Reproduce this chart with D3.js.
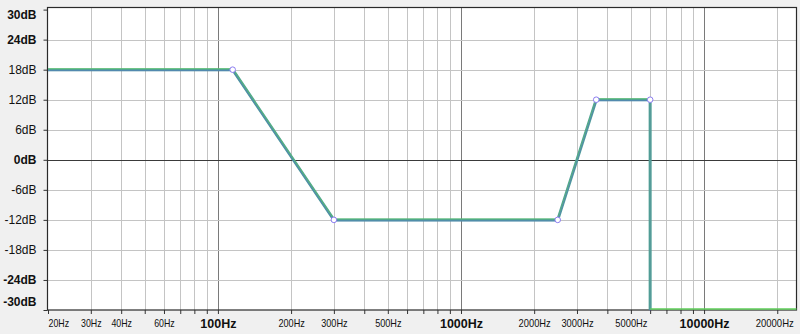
<!DOCTYPE html>
<html><head><meta charset="utf-8">
<script src="https://cdn.jsdelivr.net/npm/d3@7"></script>
<style>
html,body{margin:0;padding:0;background:#f0f0f0;}
svg{display:block;font-family:"Liberation Sans",Arial,sans-serif;}
</style></head>
<body><svg id="c" width="800" height="334"></svg>
<script>
// ---- data ----
const curveFreqs = [20, 115, 300, 2500, 3600, 6000, 6000];
const curveGains = [18, 18, -12, -12, 12, 12, -30];
const tailFreqs = [6000, 24000];
const tailGains = [-30, -30];
const nodeFreqs = [115, 300, 2500, 3600, 6000];
const nodeGains = [18, -12, -12, 12, 12];
const gridFreqs = [20,30,40,50,60,70,80,90,100,200,300,400,500,600,700,800,900,1000,2000,3000,4000,5000,6000,7000,8000,9000,10000,20000];
const majorFreqs = [100, 1000, 10000];
const labeledFreqs = [20,30,40,60,100,200,300,500,1000,2000,3000,5000,10000,20000];
const dbTicks = [30,24,18,12,6,0,-6,-12,-18,-24,-30];
const boldDb = [30,24,0,-24,-30];

const svg = d3.select("#c");
const L = 47.5, R = 796.5, T = 7.5, B = 310;
const x = d3.scaleLog().domain([20, 24000]).range([48, 796.5]);
const y = d3.scaleLinear().domain([-30, 30]).range([310, 9.6]);

svg.append("rect").attr("width",800).attr("height",334).attr("fill","#f0f0f0");
svg.append("rect").attr("x",L).attr("y",T).attr("width",R-L).attr("height",B-T).attr("fill","#fff");

// grid
const g = svg.append("g");
g.selectAll("line.v").data(gridFreqs.filter(f=>f>20)).join("line")
  .attr("x1",d=>Math.round(x(d))+0.5).attr("x2",d=>Math.round(x(d))+0.5)
  .attr("y1",T).attr("y2",B)
  .attr("stroke",d=>majorFreqs.includes(d)?"#7a7a7a":"#c4c4c4").attr("stroke-width",1);
g.selectAll("line.h").data(dbTicks.filter(d=>d<30 && d>-30)).join("line")
  .attr("x1",L).attr("x2",R)
  .attr("y1",d=>Math.round(y(d))+0.5).attr("y2",d=>Math.round(y(d))+0.5)
  .attr("stroke",d=>d===0?"#3a3a3a":"#c4c4c4").attr("stroke-width",1);

// frame
svg.append("rect").attr("x",L).attr("y",T).attr("width",R-L).attr("height",B-T)
  .attr("fill","none").attr("stroke","#2a2a2a").attr("stroke-width",1.2);

// axes
const xAxis = d3.axisBottom(x).tickValues(gridFreqs).tickSize(4)
  .tickFormat(d => labeledFreqs.includes(d) ? d + "Hz" : "");
const xg = svg.append("g").attr("transform",`translate(0,${B})`).call(xAxis);
xg.select(".domain").remove();
xg.selectAll(".tick line").attr("stroke","#333");
xg.selectAll(".tick text")
  .attr("dy",0).attr("fill","#111")
  .each(function(d){
    const t = d3.select(this);
    if (majorFreqs.includes(d)) {
      t.attr("font-size",12.5).attr("font-weight","bold").attr("y",18);
    } else {
      const s = String(d);
      const w = s.length*5.8 + 9;
      t.attr("font-size",10.5).attr("y",17)
       .attr("textLength", w).attr("lengthAdjust","spacingAndGlyphs");
      if (d === 20) t.attr("text-anchor","start").attr("x",0);
      if (d === 20000) t.attr("text-anchor","end").attr("x",w/2 - 3);
    }
  });

const yAxis = d3.axisLeft(y).tickValues(dbTicks).tickSize(4).tickPadding(7)
  .tickFormat(d => d + "dB");
const yg = svg.append("g").attr("transform",`translate(${L},0)`).call(yAxis);
yg.select(".domain").remove();
yg.selectAll(".tick line").attr("stroke","#333");
yg.selectAll(".tick text").attr("font-size",12).attr("fill","#111")
  .attr("font-weight", d => boldDb.includes(d) ? "bold" : "normal")
  .attr("dy", "0.32em")
  .attr("y", d => d===30 ? 5.5 : (d===-30 ? -8 : 0));

// curve
const pts = curveFreqs.map((f,i)=>[f,curveGains[i]]);
const line = d3.line().x(d=>x(d[0])).y(d=>y(d[1]));
svg.append("path").attr("d",line(pts)).attr("fill","none")
  .attr("stroke","#4f9e97").attr("stroke-width",3).attr("stroke-linejoin","round");
svg.append("path").attr("d",line(pts)).attr("fill","none").attr("transform","translate(0,-1)")
  .attr("stroke","#5fd35a").attr("stroke-width",1).attr("opacity",0.55);
svg.append("path").attr("d",line(pts)).attr("fill","none").attr("transform","translate(0,1)")
  .attr("stroke","#5a5ee0").attr("stroke-width",1).attr("opacity",0.4);
const tail = tailFreqs.map((f,i)=>[f,tailGains[i]]);
svg.append("path").attr("d",line(tail)).attr("fill","none").attr("transform","translate(0,-1)")
  .attr("stroke","#5fcf5a").attr("stroke-width",1.5);

// nodes
svg.selectAll("circle.n").data(nodeFreqs.map((f,i)=>[f,nodeGains[i]])).join("circle")
  .attr("cx",d=>x(d[0])).attr("cy",d=>y(d[1])).attr("r",2.8)
  .attr("fill","#fff").attr("stroke","#8b7cf0").attr("stroke-width",1);
</script></body></html>
